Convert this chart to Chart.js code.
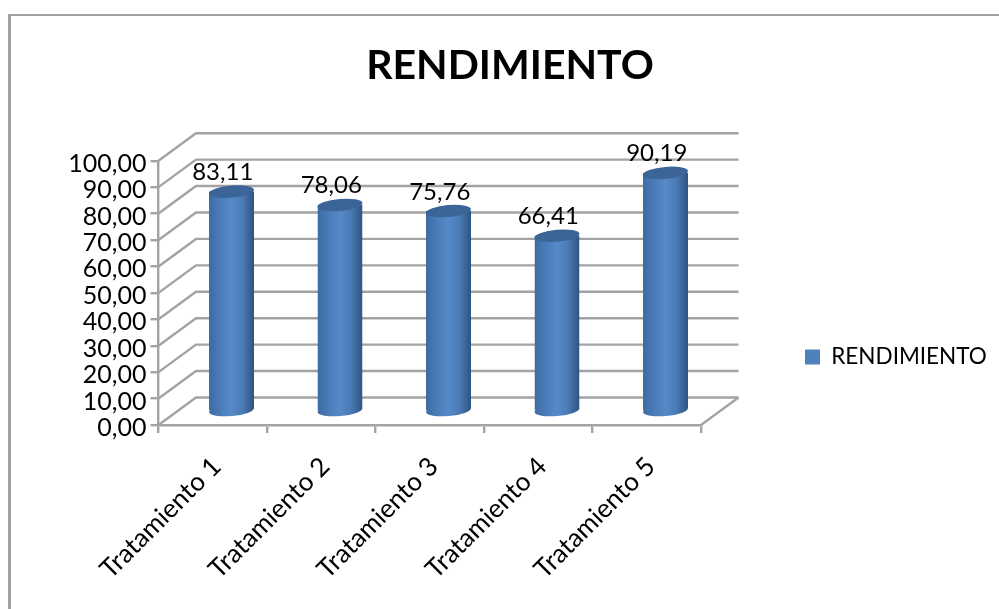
<!DOCTYPE html>
<html lang="es">
<head>
  <meta charset="UTF-8">
  <title>RENDIMIENTO</title>
  <script src="https://cdn.jsdelivr.net/npm/chart.js@4"></script>
  <style>
    html, body { margin: 0; padding: 0; background: #fff; overflow: hidden; }
    #frame { position: absolute; left: 8px; top: 14px; width: 991px; height: 595px; border-left: 3px solid #a0a0a0; border-top: 2px solid #a0a0a0; box-sizing: border-box; }
    #myChart { position: absolute; left: 0; top: 0; }
  </style>
</head>
<body>
  <div id="frame"></div>
  <canvas id="myChart" width="999" height="609"></canvas>

  <script>
    var categories = ['Tratamiento 1', 'Tratamiento 2', 'Tratamiento 3', 'Tratamiento 4', 'Tratamiento 5'];
    var rendimiento = [83.11, 78.06, 75.76, 66.41, 90.19];
    var seriesName = 'RENDIMIENTO';
    var yMin = 0;
    var yMax = 100;
    var yStep = 10;

    var FONT = 'Lato, "Open Sans", sans-serif';
    var GRID = '#a3a3a3';
    // wall depth of the fake 3D box, bars stand in the middle of it
    var DEPTH_X = 37.5;
    var DEPTH_Y = 27.5;

    function comma(v) {
      return v.toFixed(2).replace('.', ',');
    }

    function barGradient(c, x, w) {
      var g = c.createLinearGradient(x - w / 2, 0, x + w / 2, 0);
      g.addColorStop(0, '#3d6ba3');
      g.addColorStop(0.3, '#4d7fbd');
      g.addColorStop(0.5, '#5689c9');
      g.addColorStop(0.75, '#4a7ab5');
      g.addColorStop(1, '#2f5381');
      return g;
    }

    // back walls and floor, positions come from the y scale
    var walls = {
      id: 'walls',
      beforeDatasetsDraw: function(chart) {
        var c = chart.ctx, y = chart.scales.y, a = chart.chartArea;
        c.save();
        c.strokeStyle = GRID;
        c.lineWidth = 2.4;
        y.ticks.forEach(function(t) {
          var py = y.getPixelForValue(t.value);
          c.beginPath();
          c.moveTo(a.left, py);
          c.lineTo(a.left + DEPTH_X, py - DEPTH_Y);
          c.lineTo(a.right + DEPTH_X, py - DEPTH_Y);
          c.stroke();
        });
        var p0 = y.getPixelForValue(yMin);
        c.beginPath();
        c.moveTo(a.right, p0);
        c.lineTo(a.right + DEPTH_X, p0 - DEPTH_Y);
        c.stroke();
        c.restore();
      }
    };

    function ellipse(c, x, y, w, fill) {
      c.beginPath();
      c.ellipse(x, y, w / 2, 6, -5 * Math.PI / 180, 0, Math.PI * 2);
      c.fillStyle = fill;
      c.fill();
    }

    // the bars are real chart bars, moved back into the box and capped
    var cylinders = {
      id: 'cylinders',
      beforeDatasetDraw: function(chart, args) {
        var c = chart.ctx;
        c.save();
        c.translate(DEPTH_X / 2, -DEPTH_Y / 2);
        args.meta.data.forEach(function(bar) {
          ellipse(c, bar.x, bar.base, bar.width, barGradient(c, bar.x, bar.width));
        });
        // cut the square bar foot along the tilt of the ellipse
        c.save();
        c.beginPath();
        args.meta.data.forEach(function(bar) {
          var l = bar.x - bar.width / 2, r = bar.x + bar.width / 2;
          c.moveTo(l, 0);
          c.lineTo(r, 0);
          c.lineTo(r, bar.base - 2);
          c.lineTo(l, bar.base + 2);
          c.closePath();
        });
        c.clip();
      },
      afterDatasetDraw: function(chart, args) {
        var c = chart.ctx;
        c.restore();
        args.meta.data.forEach(function(bar) {
          ellipse(c, bar.x, bar.y, bar.width, '#3b6597');
        });
        c.restore();

        c.save();
        c.fillStyle = '#000';
        c.font = '24px ' + FONT;
        c.textAlign = 'center';
        c.textBaseline = 'middle';
        args.meta.data.forEach(function(bar, i) {
          c.fillText(comma(rendimiento[i]), bar.x + 10, bar.y - 33);
        });
        c.restore();
      }
    };

    // legend and title do not sit where chart.js wants them
    var placement = {
      id: 'placement',
      afterLayout: function(chart) {
        var l = chart.legend;
        l.left = 795;
        l.right = 999;
        l.top = 331;
        l.bottom = 383;
        chart.titleBlock.left = 0;
        chart.titleBlock.right = 1020;
      }
    };

    var ctx = document.getElementById('myChart').getContext('2d');
    var myChart = new Chart(ctx, {
      type: 'bar',
      data: {
        labels: categories,
        datasets: [{
          label: seriesName,
          data: rendimiento,
          backgroundColor: function(context) {
            var x = context.chart.scales.x;
            var w = (x.right - x.left) / categories.length * 0.415;
            return barGradient(context.chart.ctx, x.getPixelForValue(context.dataIndex), w);
          },
          borderWidth: 0,
          categoryPercentage: 1,
          barPercentage: 0.415
        }]
      },
      options: {
        responsive: false,
        animation: false,
        layout: { padding: { left: 0, right: 298, top: 41, bottom: 0 } },
        plugins: {
          title: {
            display: true,
            text: seriesName,
            color: '#000',
            font: { family: FONT, size: 41, weight: 'bold' },
            padding: { top: 0, bottom: 70.5 }
          },
          legend: {
            position: 'chartArea',
            labels: {
              boxWidth: 15,
              boxHeight: 15,
              padding: 10,
              color: '#000',
              font: { family: FONT, size: 22.5 },
              generateLabels: function() {
                return [{ text: seriesName, fillStyle: '#4f81bd', strokeStyle: '#4f81bd', lineWidth: 0 }];
              }
            }
          },
          tooltip: { enabled: false }
        },
        scales: {
          x: {
            grid: { drawOnChartArea: false, drawTicks: true, tickLength: 8, color: GRID, lineWidth: 2.4 },
            border: { color: GRID, width: 2.4 },
            ticks: {
              autoSkip: false,
              maxRotation: 45,
              minRotation: 45,
              labelOffset: 4,
              padding: 18,
              color: '#000',
              font: { family: FONT, size: 26 }
            },
            afterFit: function(scale) { scale.height = 609 - 425; }
          },
          y: {
            min: yMin,
            max: yMax,
            grid: { drawOnChartArea: false, drawTicks: true, tickLength: 8, color: GRID, lineWidth: 2.4 },
            border: { color: GRID, width: 2.4 },
            ticks: {
              stepSize: yStep,
              autoSkip: false,
              padding: 4,
              labelOffset: 3,
              color: '#000',
              font: { family: FONT, size: 25 },
              callback: function(v) { return comma(v); }
            },
            afterFit: function(scale) { scale.width = 158.5; }
          }
        }
      },
      plugins: [walls, cylinders, placement]
    });
  </script>
</body>
</html>
